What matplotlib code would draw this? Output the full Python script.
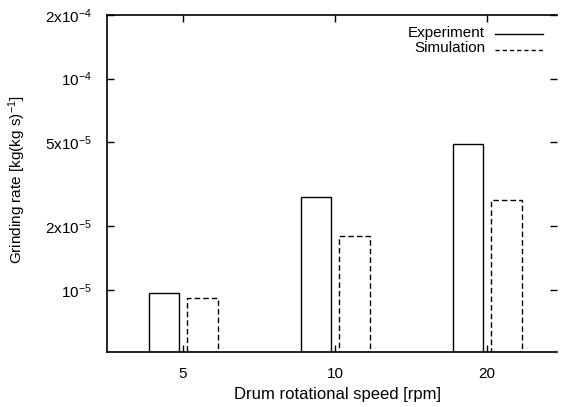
import matplotlib
matplotlib.use("Agg")
import matplotlib.pyplot as plt
import numpy as np
from matplotlib.ticker import FixedLocator, NullLocator, FixedFormatter
from matplotlib.lines import Line2D

plt.rcParams['font.family'] = ['Liberation Sans', 'DejaVu Sans']
plt.rcParams['mathtext.fontset'] = 'custom'
plt.rcParams['mathtext.rm'] = 'Liberation Sans'
plt.rcParams['mathtext.it'] = 'Liberation Sans:italic'
plt.rcParams['mathtext.bf'] = 'Liberation Sans:bold'

categories = ['5', '10', '20']
experiment = [9.7e-6, 2.75e-5, 4.88e-5]
simulation = [9.2e-6, 1.79e-5, 2.67e-5]
ytick_values = [1e-5, 2e-5, 5e-5, 1e-4, 2e-4]
ytick_labels = [r'10$^{-5}$', r'2x10$^{-5}$', r'5x10$^{-5}$', r'10$^{-4}$', r'2x10$^{-4}$']

W, H = 562, 407
fig = plt.figure(figsize=(W / 100, H / 100), dpi=100)
left, right, top, bottom = 107, 557, 15, 352
ax = fig.add_axes([left / W, 1 - bottom / H, (right - left) / W, (bottom - top) / H])

x = np.arange(len(categories))
bw = 0.2
base = 5.08e-6
ax.bar(x - 0.124, np.array(experiment) - base, bottom=base, width=bw,
       facecolor='white', edgecolor='black', linewidth=1.0, label='Experiment')
ax.bar(x + 0.128, np.array(simulation) - base, bottom=base, width=bw,
       facecolor='white', edgecolor='black', linewidth=1.0, linestyle=(0, (4, 2.2)),
       label='Simulation')

ax.set_yscale('log')
ax.set_ylim(base, 2e-4)
ax.set_xlim(-0.5, 2.46)
ax.yaxis.set_major_locator(FixedLocator(ytick_values))
ax.yaxis.set_major_formatter(FixedFormatter(ytick_labels))
ax.yaxis.set_minor_locator(NullLocator())
ax.set_xticks(x)
ax.set_xticklabels(categories)

ax.tick_params(axis='both', direction='in', length=5, width=1.0, labelsize=11,
               top=True, right=True)
ax.tick_params(axis='y', pad=11)
ax.tick_params(axis='x', pad=11)
for s in ['left', 'top', 'bottom']:
    ax.spines[s].set_linewidth(1.2)
ax.spines['right'].set_visible(False)

ax.set_ylabel(r'Grinding rate [kg(kg s)$^{-1}$]', fontsize=11)
ax.yaxis.set_label_coords(-0.176, 0.51)
ax.set_xlabel('Drum rotational speed [rpm]', fontsize=12)
ax.xaxis.set_label_coords(0.512, -0.105)

# legend (gnuplot style: right-aligned text, line sample to the right)
tr = ax.transAxes
def ax_x(px):
    return (px - left) / (right - left)
def ax_y(py):
    return (bottom - py) / (bottom - top)
ax.text(ax_x(485), ax_y(33.5), 'Experiment', ha='right', va='center', fontsize=11, transform=tr)
ax.text(ax_x(485), ax_y(47.5), 'Simulation', ha='right', va='center', fontsize=11, transform=tr)
ax.add_line(Line2D([ax_x(495), ax_x(543)], [ax_y(34), ax_y(34)], color='black',
                   linewidth=1.0, transform=tr))
ax.add_line(Line2D([ax_x(495), ax_x(543)], [ax_y(50), ax_y(50)], color='black',
                   linewidth=1.0, linestyle=(0, (3, 2.2)), transform=tr))

fig.savefig('out.png', dpi=100)
